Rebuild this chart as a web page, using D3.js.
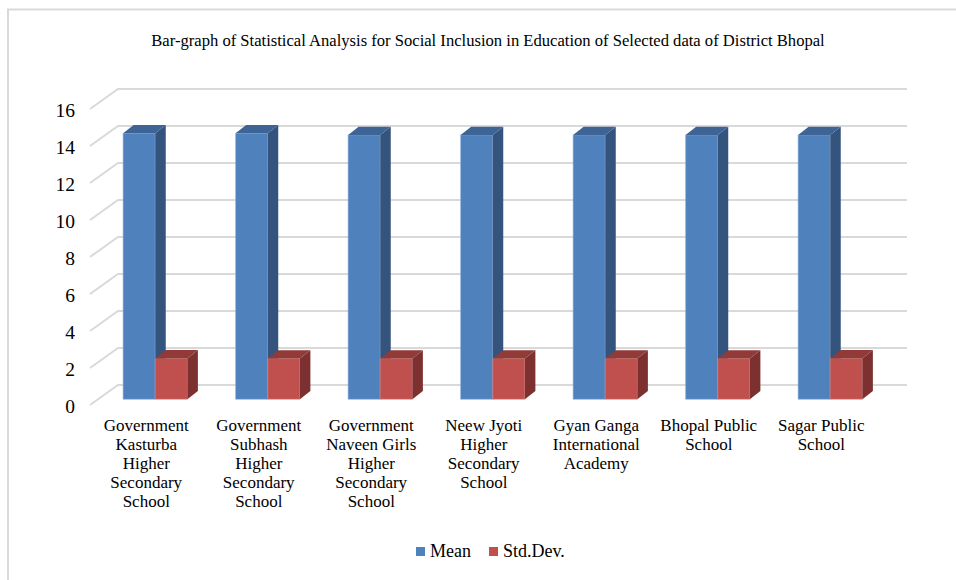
<!DOCTYPE html>
<html>
<head>
<meta charset="utf-8">
<script src="https://cdn.jsdelivr.net/npm/d3@7"></script>
<style>
  html, body { margin: 0; padding: 0; background: #ffffff; }
  svg { display: block; }
  text { font-family: "Liberation Serif", "Times New Roman", serif; fill: #000; }
</style>
</head>
<body>
<svg id="chart" width="956" height="580"></svg>
<script>
// ---- Data ----
const title = "Bar-graph of Statistical Analysis for Social Inclusion in Education of Selected data of District Bhopal";
const categories = [
  "Government\nKasturba\nHigher\nSecondary\nSchool",
  "Government\nSubhash\nHigher\nSecondary\nSchool",
  "Government\nNaveen Girls\nHigher\nSecondary\nSchool",
  "Neew Jyoti\nHigher\nSecondary\nSchool",
  "Gyan Ganga\nInternational\nAcademy",
  "Bhopal Public\nSchool",
  "Sagar Public\nSchool"
];
const seriesNames = ["Mean", "Std.Dev."];
const meanValues = [14.38, 14.38, 14.29, 14.29, 14.29, 14.29, 14.29];
const stdDevValues = [2.21, 2.2, 2.2, 2.2, 2.2, 2.2, 2.21];
const yTicks = [0, 2, 4, 6, 8, 10, 12, 14, 16];

// ---- Styles / layout ----
const colors = {
  Mean:      { front: "#4f81bd", side: "#34547e", top: "#3d6494", edge: "#8fb0dc" },
  "Std.Dev.": { front: "#c0504d", side: "#7c3130", top: "#923a37", edge: "#dc8f8d" }
};
const gridColor = "#d9d9d9";

const floorFrontX = 90, floorFrontY = 405;   // front-left corner of floor
const wallDepth = { dx: 28, dy: -20 };       // front -> back wall
const barOffset = { dx: 9, dy: -5.7 };       // front -> bar front plane
const barDepth = { dx: 10.5, dy: -8.3 };     // bar thickness
const plotWidth = 787.5;

const svg = d3.select("#chart");

// Chart border (left & top only visible)
svg.append("path")
  .attr("d", "M8,580 L8,9.5 L956,9.5")
  .attr("fill", "none").attr("stroke", "#d9d9d9").attr("stroke-width", 2);

// Scales
const x = d3.scaleBand().domain(categories).range([floorFrontX, floorFrontX + plotWidth]).paddingInner(0).paddingOuter(0);
const x1 = d3.scaleBand().domain(seriesNames).range([0, x.bandwidth()]).paddingInner(0).paddingOuter(0.75);
const h = d3.scaleLinear().domain([0, 16]).range([0, 296]);

// Gridlines: side wall diagonals + back wall horizontals
const grid = svg.append("g");
yTicks.forEach(v => {
  const fy = floorFrontY - h(v);
  const bx = floorFrontX + wallDepth.dx, by = fy + wallDepth.dy;
  grid.append("path")
    .attr("d", `M${floorFrontX},${fy} L${bx},${by} L${bx + plotWidth + 1.5},${by}`)
    .attr("fill", "none").attr("stroke", gridColor).attr("stroke-width", 2);
});

// Y tick labels
svg.append("g").selectAll("text").data(yTicks).join("text")
  .attr("x", 75)
  .attr("y", v => floorFrontY - h(v) + 8)
  .attr("text-anchor", "end")
  .attr("font-size", 19.5)
  .text(d => d);

// Bars (3D)
function drawBar(g, x0, w, val, c) {
  const by = floorFrontY + barOffset.dy;
  const top = by - h(val);
  const dx = barDepth.dx, dy = barDepth.dy;
  // front
  g.append("path").attr("d", `M${x0},${by} L${x0},${top} L${x0 + w},${top} L${x0 + w},${by} Z`)
    .attr("fill", c.front).attr("stroke", c.edge).attr("stroke-width", 0.8).attr("stroke-opacity", 0.7);
  // side
  g.append("path").attr("d", `M${x0 + w},${by} L${x0 + w},${top} L${x0 + w + dx},${top + dy} L${x0 + w + dx},${by + dy} Z`)
    .attr("fill", c.side);
  // top
  g.append("path").attr("d", `M${x0},${top} L${x0 + dx},${top + dy} L${x0 + w + dx},${top + dy} L${x0 + w},${top} Z`)
    .attr("fill", c.top);
}

const bars = svg.append("g");
categories.forEach((cat, i) => {
  const gx = x(cat) + barOffset.dx;
  const vals = { "Mean": meanValues[i], "Std.Dev.": stdDevValues[i] };
  seriesNames.forEach(s => {
    drawBar(bars, gx + x1(s), x1.bandwidth(), vals[s], colors[s]);
  });
});

// Category labels
const catG = svg.append("g");
categories.forEach(cat => {
  const t = catG.append("text")
    .attr("x", x(cat) + x.bandwidth() / 2)
    .attr("y", 431)
    .attr("text-anchor", "middle")
    .attr("font-size", 17);
  cat.split("\n").forEach((line, j) => {
    t.append("tspan").attr("x", x(cat) + x.bandwidth() / 2).attr("dy", j === 0 ? 0 : 19).text(line);
  });
});

// Title
svg.append("text")
  .attr("x", 488).attr("y", 46)
  .attr("text-anchor", "middle")
  .attr("font-size", 16.6)
  .text(title);

// Legend
const legendItems = [
  { name: "Mean", x: 416, tx: 430 },
  { name: "Std.Dev.", x: 489, tx: 503 }
];
const lg = svg.append("g");
legendItems.forEach(it => {
  lg.append("rect").attr("x", it.x).attr("y", 547).attr("width", 9).attr("height", 9).attr("fill", colors[it.name].front);
  lg.append("text").attr("x", it.tx).attr("y", 557).attr("font-size", 18).text(it.name);
});
</script>
</body>
</html>
